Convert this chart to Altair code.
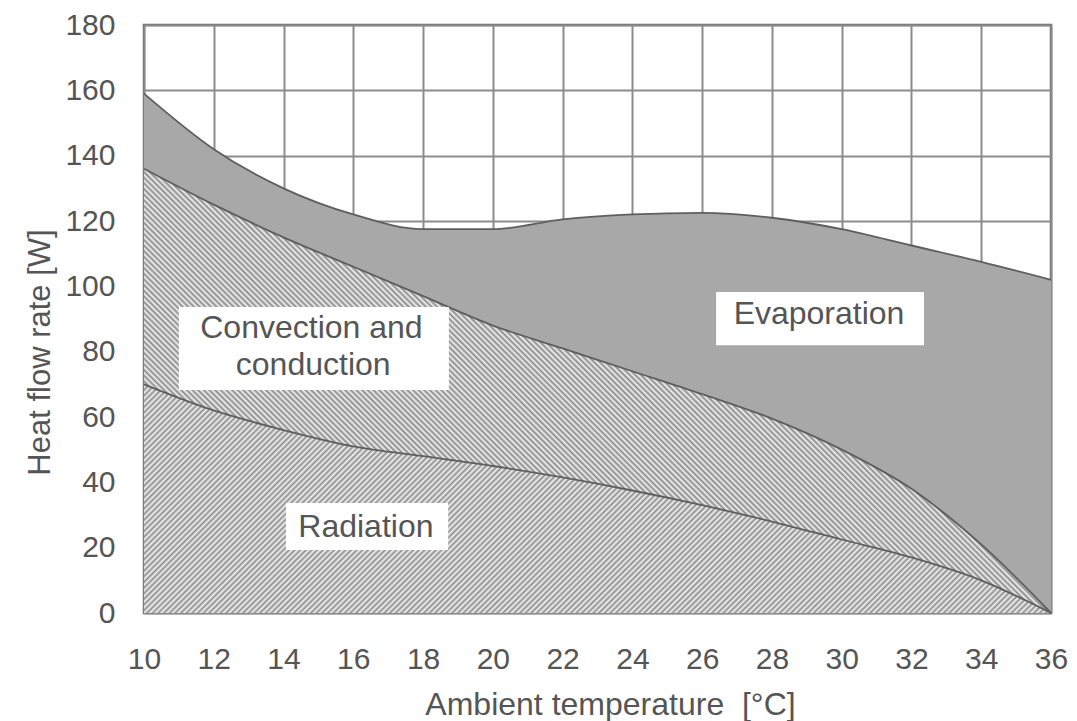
import math
import altair as alt
import pandas as pd

# ---- data ----
temps = [10, 12, 14, 16, 18, 20, 22, 24, 26, 28, 30, 32, 34, 36]
radiation_top = [70, 62, 56, 51, 48, 45, 41.5, 37.5, 33, 28, 22.5, 17, 10, 0]
convection_top = [136, 125, 115, 106, 97, 88, 81, 74, 67, 59.5, 50, 38, 21, 0]
evaporation_top = [159, 142, 130, 122, 117.5, 117.5, 120.5, 122, 122.5, 121, 117.5, 112.5, 107.5, 102]

label_text = ["Evaporation", "Convection and", "conduction", "Radiation"]
label_x = [29.35, 14.8, 14.85, 16.36]
label_y = [91.5, 87.2, 75.8, 26.3]

box_x = [26.4, 11.0, 14.07]
box_x2 = [32.36, 18.74, 18.72]
box_y = [98.3, 93.7, 33.7]
box_y2 = [82.0, 68.3, 19.3]

x_ticks = list(range(10, 37, 2))
y_ticks = list(range(0, 181, 20))

# ---- layout ----
W, H = 907, 588
XDOM, YDOM = [10, 36], [0, 180]
FONT = "Liberation Sans, Arial, Helvetica, sans-serif"
TXT = "#555555"
XT = "Ambient temperature\u00a0 [°C]"
YT = "Heat flow rate [W]"

df = pd.DataFrame({
    "t": temps,
    "zero": [0] * len(temps),
    "rad": radiation_top,
    "conv": convection_top,
    "evap": evaporation_top,
})
labels = pd.DataFrame({"text": label_text, "x": label_x, "y": label_y})
boxes = pd.DataFrame({"x": box_x, "x2": box_x2, "y": box_y, "y2": box_y2})


def stripes(Hpx, period, c1, c2, direction):
    Wpx = W
    n = int(round((Wpx + Hpx) / (period * math.sqrt(2))))
    b = Hpx / Wpx
    k = (1 + b) / (1 + b * b)
    stops = []
    for i in range(n):
        stops.append(alt.GradientStop(color=c1, offset=i / n))
        stops.append(alt.GradientStop(color=c2, offset=(i + 0.5) / n))
    stops.append(alt.GradientStop(color=c1, offset=1))
    if direction == "/":
        return alt.LinearGradient(gradient="linear", stops=stops, x1=0, y1=0, x2=k, y2=k * b)
    return alt.LinearGradient(gradient="linear", stops=stops, x1=0, y1=1, x2=k, y2=1 - k * b)


xs = alt.Scale(domain=XDOM, nice=False, zero=False)
ys = alt.Scale(domain=YDOM, nice=False)

x_axis = alt.Axis(
    values=x_ticks, grid=True, ticks=False, domain=False, labelPadding=31,
    labelFontSize=30, labelColor=TXT, labelFont=FONT, labelFlush=False,
    title=XT, titleFont=FONT, titleFontSize=32,
    titleFontWeight="normal", titleColor=TXT, titleX=466, titleY=91,
    titleBaseline="middle", titleAlign="center",
    gridColor="#8c8c8c", gridWidth=2, gridOpacity=1,
)
y_axis = alt.Axis(
    values=y_ticks, grid=True, ticks=False, domain=False, labelPadding=29,
    labelFontSize=30, labelColor=TXT, labelFont=FONT, labelFlush=False,
    title=YT, titleFont=FONT, titleFontSize=31,
    titleFontWeight="normal", titleColor=TXT, titleX=-104, titleY=327,
    titleBaseline="middle", titleAlign="center", titleAngle=270,
    gridColor="#8c8c8c", gridWidth=2, gridOpacity=1,
)

XENC = alt.X("t:Q", scale=xs, axis=x_axis, title=XT)


def Y(field):
    return alt.Y(f"{field}:Q", scale=ys, axis=y_axis, title=YT)


base = alt.Chart(df)

rad_h = max(radiation_top) / 180 * H
conv_h = max(convection_top) / 180 * H

evap_area = base.mark_area(interpolate="monotone", fill="#a8a8a8", strokeWidth=0).encode(
    x=XENC, y=Y("conv"), y2="evap:Q",
)
conv_area = base.mark_area(
    interpolate="monotone", fill=stripes(conv_h, 4.0, "#8a8a8a", "#f2f2f2", "\\"), strokeWidth=0
).encode(x=XENC, y=Y("rad"), y2="conv:Q")
rad_area = base.mark_area(
    interpolate="monotone", fill=stripes(rad_h, 4.0, "#8e8e8e", "#f2f2f2", "/"), strokeWidth=0
).encode(x=XENC, y=Y("zero"), y2="rad:Q")


def edge(field):
    return base.mark_line(interpolate="monotone", color="#5e5e5e", strokeWidth=1.8).encode(
        x=XENC, y=Y(field),
    )


box_layer = alt.Chart(boxes).mark_rect(fill="white").encode(
    x=alt.X("x:Q", scale=xs, axis=x_axis, title=XT), x2="x2:Q",
    y=alt.Y("y:Q", scale=ys, axis=y_axis, title=YT), y2="y2:Q",
)
text_layer = alt.Chart(labels).mark_text(
    font=FONT, fontSize=32, color=TXT, align="center", baseline="middle"
).encode(
    x=alt.X("x:Q", scale=xs, axis=x_axis, title=XT),
    y=alt.Y("y:Q", scale=ys, axis=y_axis, title=YT),
    text="text:N",
)

chart = alt.layer(
    evap_area, conv_area, rad_area, edge("rad"), edge("conv"), edge("evap"), box_layer, text_layer
).properties(
    width=W, height=H,
    autosize=alt.AutoSizeParams(type="none"),
    padding={"left": 136, "top": 17, "right": 18, "bottom": 108},
).configure_view(
    stroke="#6e6e6e", strokeWidth=2.5
)

chart.save("out.html", embed_options={"renderer": "svg", "actions": False})
